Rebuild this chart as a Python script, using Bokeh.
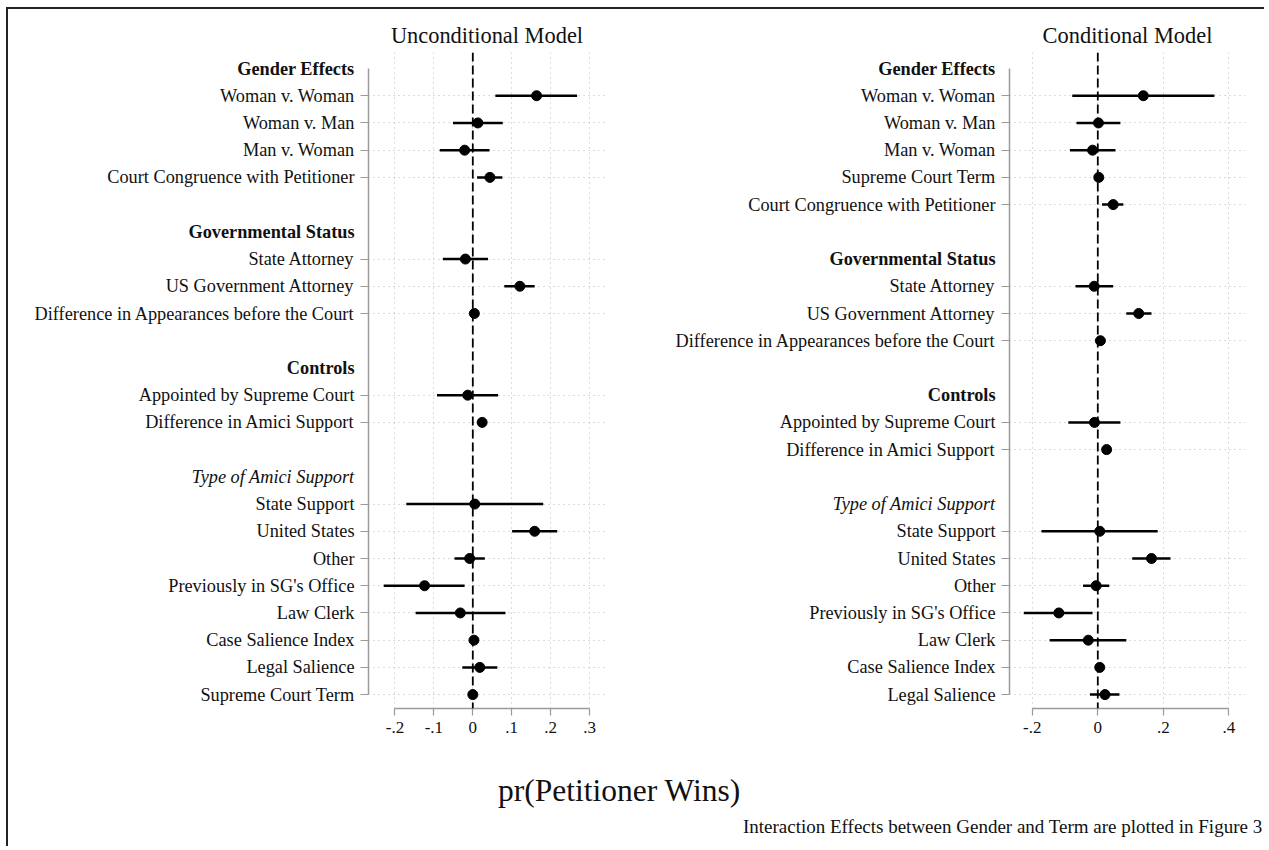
from bokeh.plotting import figure
from bokeh.models import Range1d, FixedTicker, Span, Label, ColumnDataSource
from bokeh.layouts import column, row
from bokeh.core.properties import value
from bokeh.embed import file_html
from bokeh.resources import INLINE

FONT = "Liberation Serif"

# ---------------- Unconditional model ----------------
u_title = "Unconditional Model"
u_labels = ["Gender Effects", "Woman v. Woman", "Woman v. Man", "Man v. Woman",
            "Court Congruence with Petitioner", "",
            "Governmental Status", "State Attorney", "US Government Attorney",
            "Difference in Appearances before the Court", "",
            "Controls", "Appointed by Supreme Court", "Difference in Amici Support", "",
            "Type of Amici Support", "State Support", "United States", "Other",
            "Previously in SG's Office", "Law Clerk", "Case Salience Index",
            "Legal Salience", "Supreme Court Term"]
u_coef = [0.164, 0.013, -0.021, 0.044, -0.019, 0.121, 0.004, -0.013, 0.024,
          0.005, 0.159, -0.008, -0.124, -0.032, 0.003, 0.018, 0.000]
u_lo = [0.058, -0.051, -0.085, 0.011, -0.077, 0.081, 0.001, -0.092, 0.018,
        -0.171, 0.101, -0.047, -0.229, -0.147, 0.000, -0.027, -0.002]
u_hi = [0.268, 0.077, 0.043, 0.076, 0.039, 0.159, 0.007, 0.065, 0.030,
        0.181, 0.217, 0.031, -0.021, 0.084, 0.006, 0.063, 0.002]
u_ticks = [-0.2, -0.1, 0.0, 0.1, 0.2, 0.3]
u_tick_labels = ["-.2", "-.1", "0", ".1", ".2", ".3"]

# ---------------- Conditional model ----------------
c_title = "Conditional Model"
c_labels = ["Gender Effects", "Woman v. Woman", "Woman v. Man", "Man v. Woman",
            "Supreme Court Term", "Court Congruence with Petitioner", "",
            "Governmental Status", "State Attorney", "US Government Attorney",
            "Difference in Appearances before the Court", "",
            "Controls", "Appointed by Supreme Court", "Difference in Amici Support", "",
            "Type of Amici Support", "State Support", "United States", "Other",
            "Previously in SG's Office", "Law Clerk", "Case Salience Index",
            "Legal Salience"]
c_coef = [0.139, 0.002, -0.016, 0.003, 0.047, -0.011, 0.125, 0.008, -0.010,
          0.027, 0.006, 0.164, -0.005, -0.119, -0.029, 0.006, 0.022]
c_lo = [-0.078, -0.065, -0.085, 0.000, 0.013, -0.068, 0.087, 0.004, -0.090,
        0.020, -0.172, 0.105, -0.045, -0.226, -0.147, 0.002, -0.024]
c_hi = [0.356, 0.069, 0.054, 0.006, 0.078, 0.047, 0.164, 0.012, 0.069,
        0.034, 0.183, 0.222, 0.035, -0.016, 0.087, 0.010, 0.066]
c_ticks = [-0.2, 0.0, 0.2, 0.4]
c_tick_labels = ["-.2", "0", ".2", ".4"]

header_styles = {"Gender Effects": "bold", "Governmental Status": "bold",
                 "Controls": "bold", "Type of Amici Support": "italic"}

x_label = "pr(Petitioner Wins)"
note = "Interaction Effects between Gender and Term are plotted in Figure 3"

AXIS_GRAY = "#9a9a9a"
INK = "#111111"
H = 741
MB_TOP = 43
MB_BOTTOM = 42


def label_panel(labels, yr, width, text_x):
    rows = [i for i, lab in enumerate(labels) if lab]
    src = ColumnDataSource(dict(
        x=[text_x] * len(rows), y=rows, text=[labels[i] for i in rows],
        style=[header_styles.get(labels[i], "normal") for i in rows]))
    q = figure(width=width, height=H, output_backend="svg", toolbar_location=None,
               x_range=Range1d(0, width), y_range=yr,
               x_axis_type=None, y_axis_type=None,
               min_border_left=0, min_border_right=0,
               min_border_top=MB_TOP, min_border_bottom=MB_BOTTOM)
    q.outline_line_color = None
    q.xgrid.visible = False
    q.ygrid.visible = False
    q.text(x="x", y="y", text="text", source=src, text_align="right",
           text_baseline="middle", text_font=value(FONT), text_font_size="18.3px",
           text_font_style="style", text_color=INK)
    return q


def panel(title, labels, coef, lo, hi, ticks, tick_labels, xr, yr, width, mbr):
    data_rows = [i for i, lab in enumerate(labels) if lab and lab not in header_styles]
    p = figure(width=width, height=H, output_backend="svg", toolbar_location=None,
               x_range=Range1d(*xr), y_range=yr,
               min_border_left=12, min_border_right=mbr,
               min_border_top=MB_TOP, min_border_bottom=MB_BOTTOM)
    p.outline_line_color = None
    p.background_fill_color = "white"
    p.border_fill_color = "white"

    p.title.text = title
    p.title.align = "center"
    p.title.text_font = FONT
    p.title.text_font_size = "22.4px"
    p.title.text_font_style = "normal"
    p.title.text_color = INK

    # y axis: ticks at the coefficient rows (labels drawn in the label panel)
    ya = p.yaxis[0]
    ya.ticker = FixedTicker(ticks=data_rows)
    ya.major_label_overrides = {r: "" for r in data_rows}
    ya.major_label_text_font_size = "0px"
    ya.major_label_standoff = 0
    ya.bounds = (0, len(labels) - 1)
    ya.axis_line_color = AXIS_GRAY
    ya.axis_line_width = 1.5
    ya.major_tick_line_color = AXIS_GRAY
    ya.major_tick_line_width = 1.2
    ya.major_tick_out = 8
    ya.major_tick_in = 0
    ya.minor_tick_line_color = None

    # x axis
    xa = p.xaxis[0]
    xa.ticker = FixedTicker(ticks=ticks)
    xa.major_label_overrides = dict(zip(ticks, tick_labels))
    xa.bounds = (ticks[0], ticks[-1])
    xa.axis_line_color = AXIS_GRAY
    xa.axis_line_width = 1.5
    xa.major_tick_line_color = AXIS_GRAY
    xa.major_tick_line_width = 1.2
    xa.major_tick_out = 7
    xa.major_tick_in = 0
    xa.minor_tick_line_color = None
    xa.major_label_standoff = 6
    xa.major_label_text_font = FONT
    xa.major_label_text_font_size = "17px"
    xa.major_label_text_color = INK

    for g in (p.xgrid[0], p.ygrid[0]):
        g.grid_line_color = "#b8b8b8"
        g.grid_line_dash = "1 4"
        g.grid_line_width = 1

    p.add_layout(Span(location=0, dimension="height", line_color="black",
                      line_width=1.8, line_dash="9 4"))

    p.segment(x0=lo, y0=data_rows, x1=hi, y1=data_rows, line_color="black", line_width=2.5)
    p.scatter(x=coef, y=data_rows, size=10, color="black")
    return p


yr1 = Range1d(23.51, -0.588)
yr2 = Range1d(23.51, -0.588)

l1 = label_panel(u_labels, yr1, 348, 346)
p1 = panel(u_title, u_labels, u_coef, u_lo, u_hi, u_ticks, u_tick_labels,
           (-0.2681, 0.3411), yr1, 256, 7)
l2 = label_panel(c_labels, yr2, 385, 383)
p2 = panel(c_title, c_labels, c_coef, c_lo, c_hi, c_ticks, c_tick_labels,
           (-0.2696, 0.451), yr2, 267, 19)

p3 = figure(width=1256, height=96, output_backend="svg", toolbar_location=None,
            x_range=Range1d(0, 1256), y_range=Range1d(96, 0),
            x_axis_type=None, y_axis_type=None, min_border=0)
p3.outline_line_color = None
p3.xgrid.visible = False
p3.ygrid.visible = False
p3.add_layout(Label(x=611, y=40, text=x_label, text_align="center", text_baseline="middle",
                    text_font=FONT, text_font_size="31.5px", text_color=INK))
p3.add_layout(Label(x=1254, y=76, text=note, text_align="right", text_baseline="middle",
                    text_font=FONT, text_font_size="19px", text_color=INK))

layout = column(row(l1, p1, l2, p2), p3,
                styles={"border-top": "2px solid #222222", "border-left": "2px solid #222222",
                        "margin-top": "7px", "margin-left": "6px"})

open("out.html", "w").write(file_html(layout, INLINE))
